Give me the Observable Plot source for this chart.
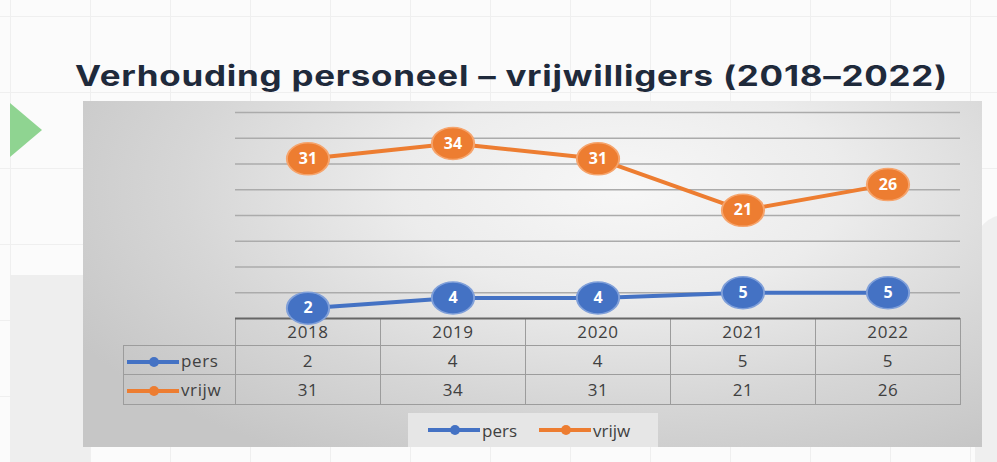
<!DOCTYPE html>
<html><head><meta charset="utf-8">
<script src="https://cdn.jsdelivr.net/npm/d3@7"></script>
<script src="https://cdn.jsdelivr.net/npm/@observablehq/plot@0.6"></script>
<style>
body{margin:0;background:#fbfbfb;}
#page{position:relative;width:997px;height:462px;overflow:hidden;background-color:#fbfbfb;
 background-image:linear-gradient(#efefef 1px,transparent 1px),linear-gradient(90deg,#efefef 1px,transparent 1px);
 background-size:80px 76px;background-position:10px 16px;}
#ll{position:absolute;left:10px;top:275px;width:80px;height:187px;background:#eeeeee;}
#rr{position:absolute;left:975px;top:215px;width:30px;height:247px;background:#efefef;border-top-left-radius:30px;}
#tri{position:absolute;left:10px;top:103px;width:32px;height:54px;background:#8fd491;clip-path:polygon(0 0,100% 50%,0 100%);}
#title{position:absolute;left:75px;top:59px;font-family:Inter,"Open Sans",sans-serif;font-weight:700;font-size:28px;color:#1f2a3b;white-space:nowrap;transform-origin:0 0;letter-spacing:0.6px;}
#box{position:absolute;left:83px;top:101px;width:899px;height:346px;
 background:radial-gradient(ellipse 70% 90% at 60% 25%,#f7f7f7 0%,#ececec 35%,#d6d6d6 70%,#c6c6c6 100%);}
#plotwrap{position:absolute;left:0;top:0;z-index:3;}
#plotwrap svg{overflow:visible;}
#tbl{position:absolute;left:40px;top:217px;width:837px;table-layout:fixed;border-collapse:collapse;font-family:"Open Sans",sans-serif;font-size:17px;color:#404040;z-index:1;}
#tbl td{border:1px solid #9c9c9c;text-align:center;padding:0;letter-spacing:0.6px;overflow:hidden;}
#tbl td.blank{border:none;}
#tbl td.key{text-align:left;white-space:nowrap;}
#tbl tr.hdr td{height:27px;border-top:none;}
#tbl tr.r0 td{height:28px;}
#tbl tr.r1 td{height:29px;}
#tbl td.key svg{vertical-align:middle;margin-left:3px;margin-right:2px;}
#legend{position:absolute;left:325px;top:312px;width:250px;height:34px;background:#e6e6e6;font-family:"Open Sans",sans-serif;font-size:17px;color:#404040;display:flex;align-items:center;z-index:1;}
#legend .it{display:flex;align-items:center;margin-left:20px;}
#legend .it:nth-child(2){margin-left:22px;}
#legend svg{margin-right:2px;}
</style></head>
<body>
<div id="page">
 <div id="ll"></div><div id="rr"></div>
 <div id="tri"></div>
 <div id="title">Verhouding personeel – vrijwilligers (2018–2022)</div>
 <div id="box">
  <div id="plotwrap"></div>
  <table id="tbl"></table>
  <div id="legend"></div>
 </div>
</div>
<script>
const years = ["2018","2019","2020","2021","2022"];
const pers = [2, 4, 4, 5, 5];
const vrijw = [31, 34, 31, 21, 26];
const seriesNames = ["pers","vrijw"];
const seriesValues = [pers, vrijw];
const colors = ["#4472c4","#ed7d31"];
const borders = ["#7f9fd9","#f6a46c"];
const yTicks = [5,10,15,20,25,30,35,40];

// title: stretch horizontally to the reference width
const tt = document.getElementById("title");
const targetW = 873;
const w0 = tt.getBoundingClientRect().width;
tt.style.transform = `scaleX(${targetW / w0})`;

const data = [];
seriesNames.forEach((s, i) => years.forEach((y, j) => data.push({series: s, year: y, value: seriesValues[i][j]})));

const marks = [
  Plot.ruleY(yTicks, {stroke: "#ababab", strokeWidth: 1.3}),
  Plot.ruleY([0], {stroke: "#666666", strokeWidth: 2})
];
seriesNames.forEach((s, i) => {
  const d = data.filter(r => r.series === s);
  marks.push(Plot.line(d, {x: "year", y: "value", stroke: colors[i], strokeWidth: 4}));
});
seriesNames.forEach((s, i) => {
  const d = data.filter(r => r.series === s);
  marks.push(Plot.dot(d, {x: "year", y: "value", r: 16, fill: colors[i], stroke: borders[i], strokeWidth: 1.5, className: "ell"}));
  marks.push(Plot.text(d, {x: "year", y: "value", text: r => String(r.value), fill: "white", fontWeight: "bold", fontSize: 16, fontFamily: "'Open Sans', sans-serif"}));
});

const chart = Plot.plot({
  width: 899, height: 219,
  marginLeft: 152, marginRight: 22, marginTop: 11, marginBottom: 2,
  x: {type: "band", domain: years, padding: 0, axis: null},
  y: {domain: [0, 40], axis: null},
  style: {background: "transparent", overflow: "visible"},
  marks
});
document.getElementById("plotwrap").appendChild(chart);

// stretch dots into ellipses like the reference
chart.querySelectorAll(".ell circle, .ell path").forEach(el => {
  if (el.tagName === "circle") {
    const cx = +el.getAttribute("cx"), cy = +el.getAttribute("cy");
    el.setAttribute("transform", `translate(${cx},${cy}) scale(1.32,1) translate(${-cx},${-cy})`);
  } else {
    const t = el.getAttribute("transform") || "";
    el.setAttribute("transform", t + " scale(1.32,1)");
  }
});

function swatch(color) {
  return `<svg width="52" height="12"><line x1="0" y1="6" x2="52" y2="6" stroke="${color}" stroke-width="4"/><circle cx="27" cy="6" r="5" fill="${color}"/></svg>`;
}

// data table
const tbl = document.getElementById("tbl");
let html = `<colgroup><col style="width:112px">${years.map(() => `<col style="width:145px">`).join("")}</colgroup>`;
html += `<tr class="hdr"><td class="blank"></td>${years.map(y => `<td>${y}</td>`).join("")}</tr>`;
seriesNames.forEach((s, i) => {
  html += `<tr class="r${i}"><td class="key">${swatch(colors[i])}${s}</td>${seriesValues[i].map(v => `<td>${v}</td>`).join("")}</tr>`;
});
tbl.innerHTML = html;

// legend
document.getElementById("legend").innerHTML = seriesNames.map((s, i) => `<div class="it">${swatch(colors[i])}<span>${s}</span></div>`).join("");
</script>
</body></html>
